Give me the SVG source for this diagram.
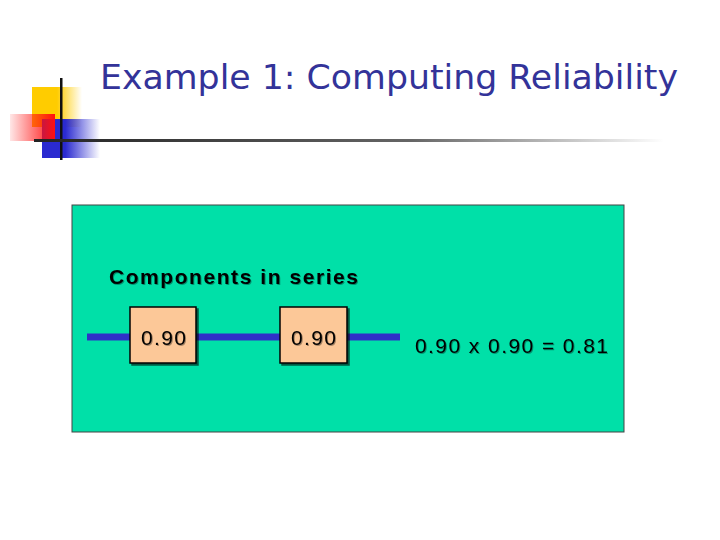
<svg xmlns="http://www.w3.org/2000/svg" width="720" height="540" viewBox="0 0 720 540">
<defs>
<linearGradient id="yg" x1="0" x2="1"><stop offset="0.5" stop-color="#ffcc00"/><stop offset="1" stop-color="#ffcc00" stop-opacity="0"/></linearGradient>
<linearGradient id="bg" x1="0" x2="1"><stop offset="0.4" stop-color="#2a2ad0"/><stop offset="1" stop-color="#2a2ad0" stop-opacity="0"/></linearGradient>
<linearGradient id="rg" x1="1" x2="0"><stop offset="0" stop-color="#ff1010"/><stop offset="1" stop-color="#ff1010" stop-opacity="0.1"/></linearGradient>
<linearGradient id="lg" x1="0" x2="1"><stop offset="0" stop-color="#222"/><stop offset="0.6" stop-color="#666"/><stop offset="1" stop-color="#fff"/></linearGradient>
<filter id="sh" x="-10%" y="-10%" width="130%" height="130%"><feDropShadow dx="2" dy="2" stdDeviation="0.5" flood-color="#000" flood-opacity="0.6"/></filter>
<filter id="tsh" x="-5%" y="-20%" width="110%" height="150%"><feDropShadow dx="1" dy="1" stdDeviation="0.3" flood-color="#000" flood-opacity="0.35"/></filter>
</defs>
<style>
.box{fill:#fcc898;stroke:#000;stroke-width:1.5;filter:url(#sh)}
.t{font-family:"Liberation Sans",Arial,sans-serif;font-size:21px;fill:#000;filter:url(#tsh)}
</style>
<rect width="720" height="540" fill="#fff"/>
<g id="logo">
<rect x="32" y="87" width="50" height="40" fill="url(#yg)"/>
<rect x="42" y="119" width="58" height="39" fill="url(#bg)"/>
<rect x="10" y="114" width="45" height="27" fill="url(#rg)"/>
<rect x="60" y="78" width="2.5" height="82" fill="#111"/>
</g>
<rect x="34" y="139" width="630" height="3" fill="url(#lg)"/>
<text x="100" y="89" font-family="'DejaVu Sans','Liberation Sans',sans-serif" font-size="33" fill="#333399" textLength="578" lengthAdjust="spacingAndGlyphs">Example 1: Computing Reliability</text>
<rect x="72" y="205" width="552" height="227" fill="#00e0a8" stroke="#444" stroke-width="1"/>
<text x="109" y="284" class="t" font-weight="bold" textLength="249">Components in series</text>
<g id="connectors">
<line x1="87" y1="337" x2="400" y2="337" stroke="#3030c8" stroke-width="7"/>
</g>
<g id="c1"><rect class="box" x="130" y="307" width="66" height="56"/><text class="t" x="141" y="345" textLength="45">0.90</text></g>
<g id="c2"><rect class="box" x="280" y="307" width="67" height="56"/><text class="t" x="291" y="345" textLength="45">0.90</text></g>
<text class="t" x="415" y="353" textLength="193">0.90 x 0.90 = 0.81</text>
</svg>
